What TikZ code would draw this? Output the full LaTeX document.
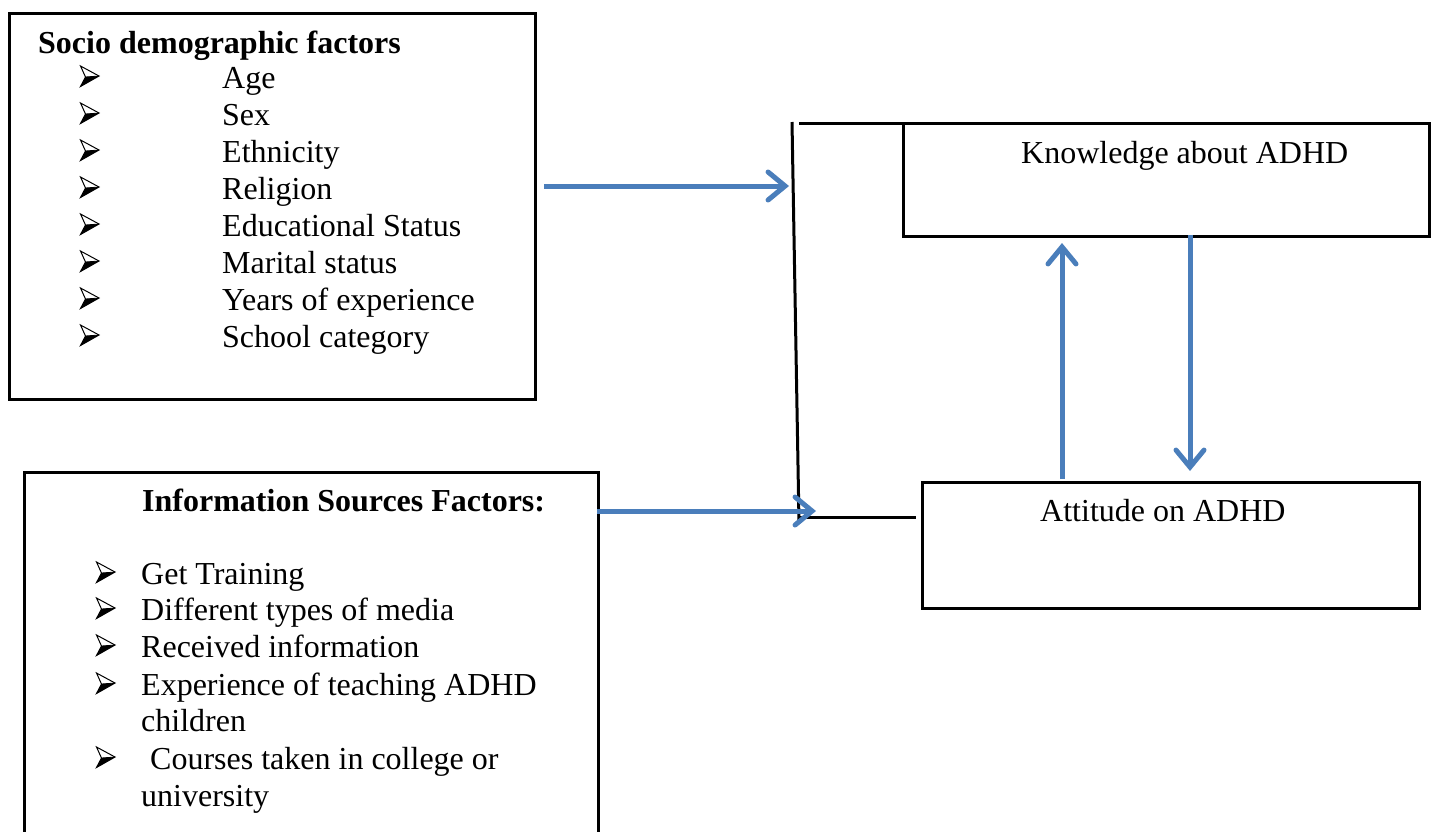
\documentclass[tikz,border=0pt]{standalone}
\usepackage{fontspec}
\setmainfont{Liberation Serif}
\usetikzlibrary{arrows.meta}
\definecolor{arrowblue}{RGB}{74,126,187}
\tikzset{
  box/.style={draw=black, line width=3pt, inner sep=0pt, anchor=north west},
  txt/.style={anchor=base west, inner sep=0pt, font=\fontsize{32}{37}\selectfont},
  ttl/.style={anchor=base west, inner sep=0pt, font=\bfseries\fontsize{32}{37}\selectfont},
  arrbul/.pic={
    \fill[black] (0.5,-0.5) -- (19,-11) -- (5.5,-10) -- cycle;
    \draw[black, line width=1pt, line join=miter] (0.5,-0.5) -- (19,-11) -- (0.5,-21) -- (5.5,-10) -- cycle;
    \draw[black, line width=0.8pt] (5.5,-10) -- (19,-11);
  },
  flow/.style={draw=arrowblue, line width=5pt, -{Straight Barb[length=17pt,width=28pt,line cap=round]}},
  bracketline/.style={draw=black, line width=3pt},
}
\begin{document}
\begin{tikzpicture}[x=1pt,y=-1pt]
\useasboundingbox (0,0) rectangle (1434,831);
\clip (0,0) rectangle (1434,831);
\fill[white] (0,0) rectangle (1434,831);

% boxes
\node[box, minimum width=526pt, minimum height=386pt] (socio) at (8,12) {};
\node[box, minimum width=574pt, minimum height=380pt] (info) at (23,471) {};
\node[box, minimum width=526pt, minimum height=113pt] (know) at (902,122) {};
\node[box, minimum width=497pt, minimum height=126pt] (att) at (921,481) {};

% socio demographic text
\node[ttl] (sT) at (38,53) {Socio demographic factors};
\foreach \t [count=\i] in {Age,Sex,Ethnicity,Religion,Educational Status,Marital status,Years of experience,School category}{
  \pic (sb\i) at (80,{87+(\i-1)*37}) {arrbul};
  \node[txt] (st\i) at (222,{88+(\i-1)*37}) {\t};
}

% information sources text
\node[ttl] (iT) at (142,511) {Information Sources Factors:};
\pic (ib1) at (96,583) {arrbul};
\node[txt] (it1) at (141,584) {Get Training};
\pic (ib2) at (96,619) {arrbul};
\node[txt] (it2) at (141,620) {Different types of media};
\pic (ib3) at (96,656) {arrbul};
\node[txt] (it3) at (141,657) {Received information};
\pic (ib4) at (96,694) {arrbul};
\node[txt] (it4) at (141,695) {Experience of teaching ADHD};
\node[txt] (it4b) at (141,731) {children};
\pic (ib5) at (96,768) {arrbul};
\node[txt] (it5) at (150,769) {Courses taken in college or};
\node[txt] (it5b) at (141,806) {university};

% outcome texts
\node[txt] (kT) at (1021,163) {Knowledge about ADHD};
\node[txt] (aT) at (1040,521) {Attitude on ADHD};

% bracket lines
\coordinate (jt) at (792,122);
\coordinate (jb) at (799,523);
\coordinate (ht1) at (799,123);
\coordinate (ht2) at (922,123);
\coordinate (hb1) at (799,517);
\coordinate (hb2) at (916,517);
\draw[bracketline] (jt) -- (jb);
\draw[bracketline] (ht1) -- (ht2);
\draw[bracketline] (hb1) -- (hb2);

% blue arrows
\coordinate (a1s) at (544,186);
\coordinate (a1e) at (789,186);
\coordinate (a2s) at (597,511);
\coordinate (a2e) at (816,511);
\coordinate (upS) at (1062,479);
\coordinate (upE) at (1062,243);
\coordinate (dnS) at (1190,235);
\coordinate (dnE) at (1190,471);
\draw[flow] (a1s) -- (a1e);
\draw[flow] (a2s) -- (a2e);
\draw[flow] (upS) -- (upE);
\draw[flow] (dnS) -- (dnE);
\end{tikzpicture}
\end{document}
